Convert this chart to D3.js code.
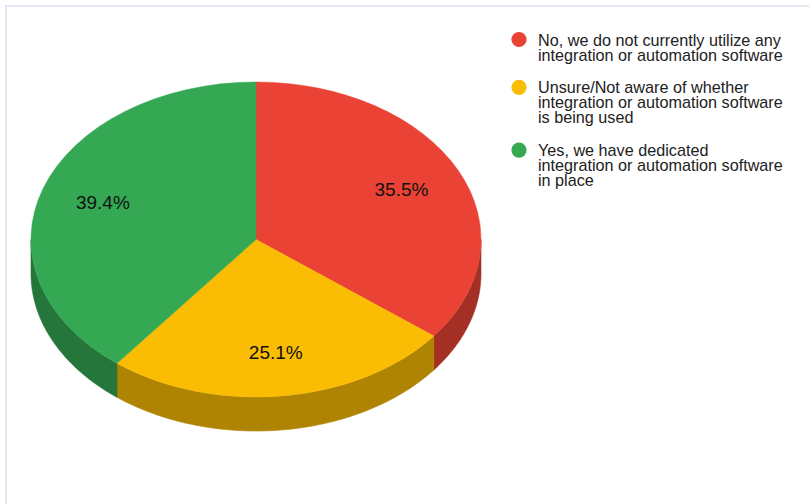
<!DOCTYPE html>
<html>
<head>
<meta charset="utf-8">
<script src="https://cdn.jsdelivr.net/npm/d3@7/dist/d3.min.js"></script>
<style>
  html, body { margin: 0; padding: 0; background: #fff; }
  svg { display: block; font-family: "Liberation Sans", Arial, sans-serif; }
</style>
</head>
<body>
<svg id="chart" width="809" height="504"></svg>
<script>
// Survey answers, in drawing order (clockwise from 12 o'clock)
const categories = [
  "No, we do not currently utilize any integration or automation software",
  "Unsure/Not aware of whether integration or automation software is being used",
  "Yes, we have dedicated integration or automation software in place"
];
const values = [35.5, 25.1, 39.4];
const colors = ["#EA4335", "#FBBC04", "#34A853"];

const svg = d3.select("#chart");
const W = 809, H = 504;

// Panel border (top and left edges)
svg.append("path")
  .attr("d", `M6,${H} L6,6 L${W},6`)
  .attr("fill", "none")
  .attr("stroke", "#e4e8f4")
  .attr("stroke-width", 2);

// Tilted pie geometry
const cx = 256, cy = 239.5, rx = 225, ry = 157.5, depth = 34;
const squash = ry / rx;

const pie = d3.pie().sort(null).value(d => d)
  .startAngle(0).endAngle(2 * Math.PI);
const arcs = pie(values);

const color = d3.scaleOrdinal().domain(d3.range(values.length)).range(colors);

// Point on the top ellipse at fraction f of the radius, angle a (clockwise from 12 o'clock)
const pt = (a, f = 1, dy = 0) => [cx + f * rx * Math.sin(a), cy - f * ry * Math.cos(a) + dy];

// Side walls: only the front half (angles PI/2 .. 3PI/2) is visible
const walls = svg.append("g");
arcs.forEach((d, i) => {
  const a0 = Math.max(d.startAngle, Math.PI / 2);
  const a1 = Math.min(d.endAngle, 3 * Math.PI / 2);
  if (a1 <= a0) return;
  const p = d3.path();
  const steps = 80;
  for (let k = 0; k <= steps; k++) {
    const [x, y] = pt(a0 + (a1 - a0) * k / steps);
    k === 0 ? p.moveTo(x, y) : p.lineTo(x, y);
  }
  for (let k = steps; k >= 0; k--) {
    const [x, y] = pt(a0 + (a1 - a0) * k / steps, 1, depth);
    p.lineTo(x, y);
  }
  p.closePath();
  const c = d3.color(color(i)).darker(1);
  walls.append("path")
    .attr("d", p.toString())
    .attr("fill", c)
    .attr("stroke", c)
    .attr("stroke-width", 0.6);
});

// Top faces
const arc = d3.arc().innerRadius(0).outerRadius(rx);
svg.append("g")
  .attr("transform", `translate(${cx},${cy}) scale(1,${squash})`)
  .selectAll("path")
  .data(arcs)
  .join("path")
  .attr("d", arc)
  .attr("fill", (d, i) => color(i))
  .attr("stroke", (d, i) => color(i))
  .attr("stroke-width", 0.6);

// Percentage labels
const labelR = 0.72;
const total = d3.sum(values);
const mid = d => (d.startAngle + d.endAngle) / 2;
svg.append("g")
  .selectAll("text")
  .data(arcs)
  .join("text")
  .attr("x", d => pt(mid(d), labelR)[0])
  .attr("y", d => pt(mid(d), labelR)[1])
  .attr("dy", "0.35em")
  .attr("text-anchor", "middle")
  .attr("font-size", 19)
  .attr("fill", "#111")
  .text(d => (d.value / total * 100).toFixed(1) + "%");

// Legend with wrapped entries
const legend = svg.append("g");
const lx = 519, textX = 538, lineH = 15, entryGap = 32.8, maxW = 248, fs = 16.2;
let baseY = 45.5;
categories.forEach((cat, i) => {
  const g = legend.append("g");
  const t = g.append("text").attr("font-size", fs).attr("fill", "#222");
  // greedy word wrap
  const probe = g.append("text").attr("font-size", fs).attr("visibility", "hidden");
  const lines = [];
  let cur = "";
  cat.split(" ").forEach(w => {
    const trial = cur ? cur + " " + w : w;
    probe.text(trial);
    if (probe.node().getComputedTextLength() > maxW && cur) {
      lines.push(cur);
      cur = w;
    } else cur = trial;
  });
  lines.push(cur);
  probe.remove();
  lines.forEach((ln, j) => {
    t.append("tspan").attr("x", textX).attr("y", baseY + j * lineH).text(ln);
  });
  g.append("circle")
    .attr("cx", lx)
    .attr("cy", baseY - 6)
    .attr("r", 7.6)
    .attr("fill", color(i));
  baseY += (lines.length - 1) * lineH + entryGap;
});
</script>
</body>
</html>
